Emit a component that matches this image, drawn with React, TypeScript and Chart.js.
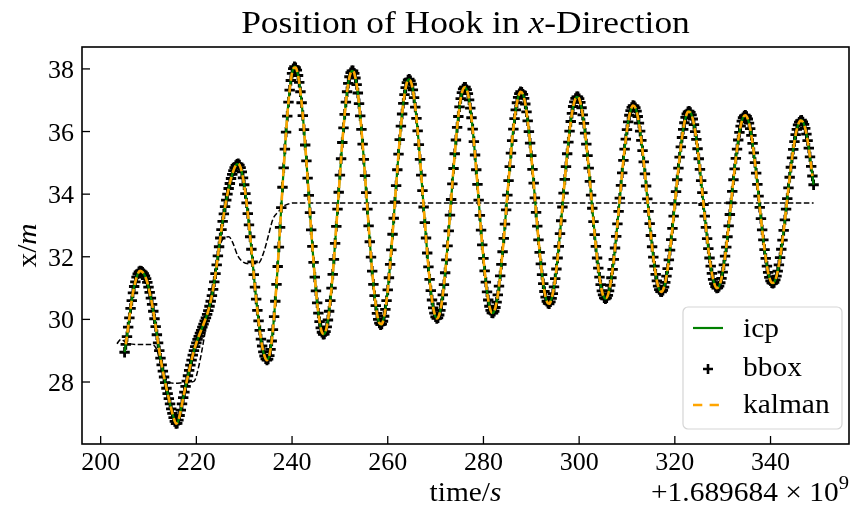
import { useEffect, useRef } from "react";
import { Chart, registerables } from "chart.js";

Chart.register(...registerables);

// ---- data -------------------------------------------------------------
// time axis offset: +1.689684e9 s
const bboxStart = 205.0;
const bboxStep = 0.25;
// bounding-box detector, x position [m], one sample every 0.25 s
const bboxX = [
  28.95, 29.2, 29.45, 29.75, 30.05, 30.35, 30.6, 30.85,
  31.05, 31.2, 31.35, 31.45, 31.52, 31.55, 31.54, 31.51,
  31.46, 31.39, 31.3, 31.18, 31.03, 30.86, 30.68, 30.48,
  30.26, 30.02, 29.77, 29.51, 29.25, 29.0, 28.76, 28.55,
  28.35, 28.16, 27.98, 27.8, 27.63, 27.47, 27.3, 27.14,
  27.0, 26.86, 26.74, 26.67, 26.68, 26.78, 26.93, 27.1,
  27.3, 27.5, 27.68, 27.86, 28.03, 28.2, 28.37, 28.54,
  28.7, 28.86, 29.0, 29.13, 29.25, 29.36, 29.46, 29.56,
  29.65, 29.75, 29.85, 29.95, 30.05, 30.16, 30.28, 30.42,
  30.58, 30.76, 30.96, 31.2, 31.46, 31.74, 32.03, 32.32,
  32.6, 32.87, 33.13, 33.37, 33.6, 33.81, 34.0, 34.18,
  34.34, 34.5, 34.63, 34.75, 34.85, 34.92, 34.96, 34.97,
  34.93, 34.85, 34.71, 34.52, 34.3, 34.02, 33.72, 33.38,
  33.02, 32.64, 32.24, 31.84, 31.43, 31.03, 30.65, 30.29,
  29.95, 29.65, 29.37, 29.15, 28.96, 28.83, 28.74, 28.7,
  28.73, 28.84, 29.04, 29.31, 29.67, 30.09, 30.58, 31.12,
  31.69, 32.31, 32.94, 33.57, 34.22, 34.84, 35.44, 35.98,
  36.49, 36.94, 37.32, 37.63, 37.86, 38.01, 38.07, 38.04,
  37.96, 37.79, 37.57, 37.27, 36.92, 36.51, 36.06, 35.57,
  35.06, 34.51, 33.96, 33.41, 32.86, 32.33, 31.82, 31.35,
  30.91, 30.53, 30.2, 29.93, 29.73, 29.59, 29.52, 29.53,
  29.61, 29.76, 29.98, 30.26, 30.6, 31.0, 31.44, 31.92,
  32.43, 32.97, 33.52, 34.06, 34.61, 35.13, 35.65, 36.12,
  36.55, 36.94, 37.27, 37.54, 37.75, 37.88, 37.94, 37.94,
  37.86, 37.71, 37.5, 37.23, 36.89, 36.5, 36.07, 35.6,
  35.11, 34.59, 34.05, 33.52, 32.99, 32.48, 31.99, 31.54,
  31.12, 30.76, 30.44, 30.19, 30.0, 29.88, 29.83, 29.85,
  29.94, 30.1, 30.32, 30.6, 30.94, 31.33, 31.76, 32.22,
  32.72, 33.23, 33.75, 34.27, 34.78, 35.28, 35.74, 36.17,
  36.56, 36.9, 37.18, 37.4, 37.56, 37.65, 37.67, 37.62,
  37.51, 37.33, 37.08, 36.78, 36.42, 36.02, 35.58, 35.11,
  34.61, 34.11, 33.59, 33.09, 32.6, 32.12, 31.68, 31.28,
  30.92, 30.62, 30.37, 30.2, 30.08, 30.03, 30.05, 30.14,
  30.29, 30.5, 30.78, 31.11, 31.49, 31.9, 32.35, 32.83,
  33.33, 33.83, 34.33, 34.82, 35.29, 35.73, 36.13, 36.48,
  36.79, 37.05, 37.24, 37.36, 37.42, 37.42, 37.34, 37.21,
  37.01, 36.75, 36.44, 36.08, 35.68, 35.25, 34.78, 34.31,
  33.81, 33.32, 32.85, 32.38, 31.95, 31.55, 31.19, 30.88,
  30.62, 30.42, 30.29, 30.21, 30.2, 30.26, 30.38, 30.55,
  30.78, 31.06, 31.39, 31.76, 32.16, 32.59, 33.04, 33.5,
  33.97, 34.43, 34.88, 35.31, 35.71, 36.08, 36.41, 36.69,
  36.92, 37.09, 37.21, 37.27, 37.26, 37.19, 37.06, 36.88,
  36.63, 36.34, 36.0, 35.63, 35.23, 34.79, 34.35, 33.88,
  33.42, 32.98, 32.54, 32.14, 31.77, 31.43, 31.14, 30.89,
  30.71, 30.58, 30.51, 30.5, 30.56, 30.67, 30.82, 31.04,
  31.3, 31.61, 31.96, 32.33, 32.74, 33.15, 33.59, 34.03,
  34.47, 34.88, 35.29, 35.66, 36.01, 36.32, 36.58, 36.8,
  36.95, 37.06, 37.11, 37.11, 37.05, 36.93, 36.76, 36.53,
  36.26, 35.95, 35.6, 35.23, 34.83, 34.41, 33.97, 33.55,
  33.12, 32.71, 32.33, 31.96, 31.64, 31.35, 31.11, 30.91,
  30.78, 30.69, 30.66, 30.69, 30.77, 30.91, 31.09, 31.33,
  31.6, 31.92, 32.28, 32.65, 33.05, 33.45, 33.87, 34.28,
  34.68, 35.08, 35.44, 35.76, 36.06, 36.31, 36.52, 36.67,
  36.77, 36.83, 36.82, 36.76, 36.65, 36.48, 36.27, 36.01,
  35.72, 35.39, 35.03, 34.65, 34.26, 33.85, 33.45, 33.06,
  32.68, 32.32, 31.99, 31.7, 31.44, 31.23, 31.06, 30.95,
  30.89, 30.88, 30.93, 31.03, 31.18, 31.38, 31.62, 31.9,
  32.21, 32.55, 32.91, 33.3, 33.68, 34.08, 34.46, 34.83,
  35.18, 35.51, 35.81, 36.07, 36.28, 36.45, 36.56, 36.63,
  36.65, 36.61, 36.53, 36.4, 36.22, 36.0, 35.75, 35.45,
  35.13, 34.79, 34.43, 34.05, 33.67, 33.3, 32.94, 32.58,
  32.26, 31.96, 31.7, 31.47, 31.28, 31.14, 31.05, 31.0,
  31.01, 31.06, 31.17, 31.31, 31.51, 31.74, 32.02, 32.31,
  32.64, 32.99, 33.35, 33.72, 34.09, 34.46, 34.81, 35.14,
  35.44, 35.73, 35.97, 36.17, 36.33, 36.44, 36.5, 36.52,
  36.48, 36.4, 36.27, 36.09, 35.88, 35.62, 35.32, 35.01,
  34.67, 34.31, 33.94, 33.58, 33.22, 32.86, 32.54, 32.23,
  31.95, 31.7, 31.5, 31.34, 31.23, 31.17, 31.15, 31.18,
  31.26, 31.38, 31.54, 31.74, 31.97, 32.24, 32.53, 32.84,
  33.18, 33.52, 33.86, 34.2, 34.54, 34.86, 35.16, 35.43,
  35.68, 35.9, 36.07, 36.21, 36.3, 36.35, 36.36, 36.31,
  36.23, 36.1, 35.92, 35.71, 35.47, 35.19, 34.89, 34.58,
  34.3,
];

const icpStart = 205.0;
const icpStep = 0.5;
// ICP registration, x position [m], one sample every 0.5 s
const icpX = [
  28.95, 29.45, 30.05, 30.6, 31.05, 31.35, 31.52, 31.54,
  31.46, 31.3, 31.03, 30.68, 30.26, 29.77, 29.25, 28.76,
  28.35, 27.98, 27.63, 27.3, 27.0, 26.74, 26.68, 26.93,
  27.3, 27.68, 28.03, 28.37, 28.7, 29.0, 29.25, 29.46,
  29.65, 29.85, 30.05, 30.28, 30.58, 30.96, 31.46, 32.03,
  32.6, 33.13, 33.6, 34.0, 34.34, 34.63, 34.85, 34.96,
  34.93, 34.71, 34.3, 33.72, 33.02, 32.24, 31.43, 30.65,
  29.95, 29.37, 28.96, 28.74, 28.73, 29.04, 29.67, 30.58,
  31.69, 32.94, 34.22, 35.44, 36.49, 37.32, 37.86, 38.07,
  37.96, 37.57, 36.92, 36.06, 35.06, 33.96, 32.86, 31.82,
  30.91, 30.2, 29.73, 29.52, 29.61, 29.98, 30.6, 31.44,
  32.43, 33.52, 34.61, 35.65, 36.55, 37.27, 37.75, 37.94,
  37.86, 37.5, 36.89, 36.07, 35.11, 34.05, 32.99, 31.99,
  31.12, 30.44, 30.0, 29.83, 29.94, 30.32, 30.94, 31.76,
  32.72, 33.75, 34.78, 35.74, 36.56, 37.18, 37.56, 37.67,
  37.51, 37.08, 36.42, 35.58, 34.61, 33.59, 32.6, 31.68,
  30.92, 30.37, 30.08, 30.05, 30.29, 30.78, 31.49, 32.35,
  33.33, 34.33, 35.29, 36.13, 36.79, 37.24, 37.42, 37.34,
  37.01, 36.44, 35.68, 34.78, 33.81, 32.85, 31.95, 31.19,
  30.62, 30.29, 30.2, 30.38, 30.78, 31.39, 32.16, 33.04,
  33.97, 34.88, 35.71, 36.41, 36.92, 37.21, 37.26, 37.06,
  36.63, 36.0, 35.23, 34.35, 33.42, 32.54, 31.77, 31.14,
  30.71, 30.51, 30.56, 30.82, 31.3, 31.96, 32.74, 33.59,
  34.47, 35.29, 36.01, 36.58, 36.95, 37.11, 37.05, 36.76,
  36.26, 35.6, 34.83, 33.97, 33.12, 32.33, 31.64, 31.11,
  30.78, 30.66, 30.77, 31.09, 31.6, 32.28, 33.05, 33.87,
  34.68, 35.44, 36.06, 36.52, 36.77, 36.82, 36.65, 36.27,
  35.72, 35.03, 34.26, 33.45, 32.68, 31.99, 31.44, 31.06,
  30.89, 30.93, 31.18, 31.62, 32.21, 32.91, 33.68, 34.46,
  35.18, 35.81, 36.28, 36.56, 36.65, 36.53, 36.22, 35.75,
  35.13, 34.43, 33.67, 32.94, 32.26, 31.7, 31.28, 31.05,
  31.01, 31.17, 31.51, 32.02, 32.64, 33.35, 34.09, 34.81,
  35.44, 35.97, 36.33, 36.5, 36.48, 36.27, 35.88, 35.32,
  34.67, 33.94, 33.22, 32.54, 31.95, 31.5, 31.23, 31.15,
  31.26, 31.54, 31.97, 32.53, 33.18, 33.86, 34.54, 35.16,
  35.68, 36.07, 36.3, 36.36, 36.23, 35.92, 35.47, 34.89,
  34.3,
];

const kalmanStart = 205.25;
const kalmanStep = 0.5;
// Kalman filter estimate, x position [m], one sample every 0.5 s
const kalmanX = [
  29.2, 29.75, 30.35, 30.85, 31.2, 31.45, 31.55, 31.51,
  31.39, 31.18, 30.86, 30.48, 30.02, 29.51, 29.0, 28.55,
  28.16, 27.8, 27.47, 27.14, 26.86, 26.67, 26.78, 27.1,
  27.5, 27.86, 28.2, 28.54, 28.86, 29.13, 29.36, 29.56,
  29.75, 29.95, 30.16, 30.42, 30.76, 31.2, 31.74, 32.32,
  32.87, 33.37, 33.81, 34.18, 34.5, 34.75, 34.92, 34.97,
  34.85, 34.52, 34.02, 33.38, 32.64, 31.84, 31.03, 30.29,
  29.65, 29.15, 28.83, 28.7, 28.84, 29.31, 30.09, 31.12,
  32.31, 33.57, 34.84, 35.98, 36.94, 37.63, 38.01, 38.04,
  37.79, 37.27, 36.51, 35.57, 34.51, 33.41, 32.33, 31.35,
  30.53, 29.93, 29.59, 29.53, 29.76, 30.26, 31.0, 31.92,
  32.97, 34.06, 35.13, 36.12, 36.94, 37.54, 37.88, 37.94,
  37.71, 37.23, 36.5, 35.6, 34.59, 33.52, 32.48, 31.54,
  30.76, 30.19, 29.88, 29.85, 30.1, 30.6, 31.33, 32.22,
  33.23, 34.27, 35.28, 36.17, 36.9, 37.4, 37.65, 37.62,
  37.33, 36.78, 36.02, 35.11, 34.11, 33.09, 32.12, 31.28,
  30.62, 30.2, 30.03, 30.14, 30.5, 31.11, 31.9, 32.83,
  33.83, 34.82, 35.73, 36.48, 37.05, 37.36, 37.42, 37.21,
  36.75, 36.08, 35.25, 34.31, 33.32, 32.38, 31.55, 30.88,
  30.42, 30.21, 30.26, 30.55, 31.06, 31.76, 32.59, 33.5,
  34.43, 35.31, 36.08, 36.69, 37.09, 37.27, 37.19, 36.88,
  36.34, 35.63, 34.79, 33.88, 32.98, 32.14, 31.43, 30.89,
  30.58, 30.5, 30.67, 31.04, 31.61, 32.33, 33.15, 34.03,
  34.88, 35.66, 36.32, 36.8, 37.06, 37.11, 36.93, 36.53,
  35.95, 35.23, 34.41, 33.55, 32.71, 31.96, 31.35, 30.91,
  30.69, 30.69, 30.91, 31.33, 31.92, 32.65, 33.45, 34.28,
  35.08, 35.76, 36.31, 36.67, 36.83, 36.76, 36.48, 36.01,
  35.39, 34.65, 33.85, 33.06, 32.32, 31.7, 31.23, 30.95,
  30.88, 31.03, 31.38, 31.9, 32.55, 33.3, 34.08, 34.83,
  35.51, 36.07, 36.45, 36.63, 36.61, 36.4, 36.0, 35.45,
  34.79, 34.05, 33.3, 32.58, 31.96, 31.47, 31.14, 31.0,
  31.06, 31.31, 31.74, 32.31, 32.99, 33.72, 34.46, 35.14,
  35.73, 36.17, 36.44, 36.52, 36.4, 36.09, 35.62, 35.01,
  34.31, 33.58, 32.86, 32.23, 31.7, 31.34, 31.17, 31.18,
  31.38, 31.74, 32.24, 32.84, 33.52, 34.2, 34.86, 35.43,
  35.9, 36.21, 36.35, 36.31, 36.1, 35.71, 35.19, 34.58,
];

// running mean of the hook position (black dashed)
const trendT = [
  203.4, 204.2, 205.0, 206.0, 208.0, 210.5, 211.5, 212.3, 213.0, 214.0,
  215.5, 217.5, 219.5, 220.5, 221.5, 222.5, 223.7, 225.1, 226.0, 226.8,
  227.6, 228.6, 229.6, 231.0, 233.0, 234.2, 235.1, 236.0, 237.2, 238.3,
  239.3, 240.2, 349.0,
];
const trendX = [
  29.22, 29.36, 29.3, 29.22, 29.2, 29.2, 29.1, 28.75, 28.35, 28.02,
  27.96, 27.98, 28.02, 28.5, 29.3, 30.25, 31.36, 32.43, 32.62, 32.64,
  32.45, 32.05, 31.85, 31.78, 31.8, 32.2, 32.7, 33.2, 33.45, 33.62,
  33.69, 33.72, 33.72,
];

const xTicks = [200, 220, 240, 260, 280, 300, 320, 340];
const yTicks = [28, 30, 32, 34, 36, 38];
const xRange = [196.1, 356.4];
const yRange = [26.02, 38.7];

const legendItems = ["icp", "bbox", "kalman"];

// ---- drawing helpers ---------------------------------------------------
const SERIF = '"Liberation Serif", "Times New Roman", serif';
const STRETCH = 1.09;

type Part = { t: string; it?: boolean; k?: number; dy?: number };

function fontOf(size: number, p: Part) {
  return `${p.it ? "italic " : ""}${size * (p.k ?? 1)}px ${SERIF}`;
}

function drawRich(
  ctx: CanvasRenderingContext2D,
  parts: Part[],
  x: number,
  y: number,
  align: "left" | "center" | "right",
  size: number,
  sx = STRETCH
) {
  const widths = parts.map((p) => {
    ctx.font = fontOf(size, p);
    return ctx.measureText(p.t).width * sx;
  });
  const total = widths.reduce((a, b) => a + b, 0);
  let cx = align === "left" ? x : align === "center" ? x - total / 2 : x - total;
  ctx.textAlign = "left";
  ctx.textBaseline = "alphabetic";
  parts.forEach((p, i) => {
    ctx.save();
    ctx.font = fontOf(size, p);
    ctx.translate(cx, y + (p.dy ?? 0));
    ctx.scale(sx, 1);
    ctx.fillText(p.t, 0, 0);
    ctx.restore();
    cx += widths[i];
  });
}

function roundRectPath(ctx: CanvasRenderingContext2D, x: number, y: number, w: number, h: number, r: number) {
  ctx.beginPath();
  ctx.moveTo(x + r, y);
  ctx.lineTo(x + w - r, y);
  ctx.arcTo(x + w, y, x + w, y + r, r);
  ctx.lineTo(x + w, y + h - r);
  ctx.arcTo(x + w, y + h, x + w - r, y + h, r);
  ctx.lineTo(x + r, y + h);
  ctx.arcTo(x, y + h, x, y + h - r, r);
  ctx.lineTo(x, y + r);
  ctx.arcTo(x, y, x + r, y, r);
  ctx.closePath();
}

const decorPlugin = {
  id: "decor",
  beforeDraw(chart: any) {
    const { ctx, width, height } = chart;
    ctx.save();
    ctx.fillStyle = "#ffffff";
    ctx.fillRect(0, 0, width, height);
    ctx.restore();
  },
  afterDraw(chart: any) {
    const { ctx, chartArea: a, scales } = chart;
    const xs = scales.x;
    const ys = scales.y;
    ctx.save();
    ctx.fillStyle = "#000";
    ctx.strokeStyle = "#000";

    // frame
    ctx.lineWidth = 1.6;
    ctx.strokeRect(a.left, a.top, a.right - a.left, a.bottom - a.top);

    // inward ticks + labels
    ctx.lineWidth = 1.3;
    ctx.font = `26px ${SERIF}`;
    xs.ticks.forEach((t: any) => {
      if (t.value < xs.min || t.value > xs.max) return;
      const px = xs.getPixelForValue(t.value);
      ctx.beginPath();
      ctx.moveTo(px, a.bottom);
      ctx.lineTo(px, a.bottom - 8);
      ctx.stroke();
      ctx.textAlign = "center";
      ctx.textBaseline = "alphabetic";
      ctx.fillText(String(t.value), px, 470);
    });
    ys.ticks.forEach((t: any) => {
      if (t.value < ys.min || t.value > ys.max) return;
      const py = ys.getPixelForValue(t.value);
      ctx.beginPath();
      ctx.moveTo(a.left, py);
      ctx.lineTo(a.left + 8, py);
      ctx.stroke();
      ctx.textAlign = "right";
      ctx.textBaseline = "alphabetic";
      ctx.fillText(String(t.value), a.left - 8, py + 9);
    });

    const cx = (a.left + a.right) / 2;
    const cy = (a.top + a.bottom) / 2;

    // title
    drawRich(ctx, [{ t: "Position of Hook in " }, { t: "x", it: true }, { t: "-Direction" }], cx, 33, "center", 32.5);

    // x label and offset
    drawRich(ctx, [{ t: "time/" }, { t: "s", it: true }], cx, 501, "center", 27);
    drawRich(ctx, [{ t: "+1.689684 \u00d7 10" }, { t: "9", k: 0.7, dy: -12 }], a.right, 501, "right", 27);

    // y label
    ctx.save();
    ctx.translate(35.5, cy);
    ctx.rotate(-Math.PI / 2);
    drawRich(ctx, [{ t: "x/" }, { t: "m", it: true }], 0, 0, "center", 27);
    ctx.restore();

    // legend
    const lx = 683, ly = 307, lw = 159, lh = 122;
    ctx.save();
    roundRectPath(ctx, lx, ly, lw, lh, 5);
    ctx.fillStyle = "rgba(255,255,255,0.85)";
    ctx.fill();
    ctx.strokeStyle = "#d5d5d5";
    ctx.lineWidth = 1.2;
    ctx.stroke();
    ctx.restore();

    const rows = [328, 369, 405];
    const textBase = [337, 376, 413];
    // icp
    ctx.save();
    ctx.strokeStyle = "#008000";
    ctx.lineWidth = 2.2;
    ctx.beginPath();
    ctx.moveTo(693, rows[0]);
    ctx.lineTo(723, rows[0]);
    ctx.stroke();
    // bbox
    ctx.strokeStyle = "#000";
    ctx.lineWidth = 2.6;
    ctx.beginPath();
    ctx.moveTo(703, rows[1]);
    ctx.lineTo(713, rows[1]);
    ctx.moveTo(708, rows[1] - 5);
    ctx.lineTo(708, rows[1] + 5);
    ctx.stroke();
    // kalman
    ctx.strokeStyle = "#ffa500";
    ctx.lineWidth = 2.6;
    ctx.setLineDash([9.3, 7.3]);
    ctx.beginPath();
    ctx.moveTo(693, rows[2]);
    ctx.lineTo(723, rows[2]);
    ctx.stroke();
    ctx.restore();

    ctx.fillStyle = "#000";
    legendItems.forEach((name, i) => {
      drawRich(ctx, [{ t: name }], 743, textBase[i], "left", 27);
    });

    ctx.restore();
  },
};

export default function App() {
  const ref = useRef<HTMLCanvasElement | null>(null);

  useEffect(() => {
    const canvas = ref.current;
    if (!canvas) return;

    const chart = new Chart(canvas, {
      type: "line",
      data: {
        datasets: [
          {
            label: "kalman",
            data: kalmanX.map((v, i) => ({ x: kalmanStart + i * kalmanStep, y: v })),
            borderColor: "#ffa500",
            borderWidth: 2.6,
            borderDash: [8, 4],
            pointRadius: 0,
            cubicInterpolationMode: "monotone",
            fill: false,
            order: 0,
          },
          {
            label: "icp",
            data: icpX.map((v, i) => ({ x: icpStart + i * icpStep, y: v })),
            borderColor: "#008000",
            borderWidth: 2.2,
            pointRadius: 0,
            cubicInterpolationMode: "monotone",
            fill: false,
            order: 1,
          },
          {
            label: "mean",
            data: trendT.map((t, i) => ({ x: t, y: trendX[i] })),
            borderColor: "#000",
            borderWidth: 1.5,
            borderDash: [5.5, 2.5],
            pointRadius: 0,
            cubicInterpolationMode: "monotone",
            fill: false,
            order: 2,
          },
          {
            label: "bbox",
            data: bboxX.map((v, i) => ({ x: bboxStart + i * bboxStep, y: v })),
            showLine: false,
            pointStyle: "cross",
            pointRadius: 5.2,
            pointBorderWidth: 2.8,
            pointBorderColor: "#000",
            pointBackgroundColor: "#000",
            borderColor: "#000",
            fill: false,
            order: 3,
          },
        ],
      },
      options: {
        animation: false,
        responsive: false,
        events: [],
        layout: { padding: { left: 82, right: 2, top: 47, bottom: 70 } },
        plugins: {
          legend: { display: false },
          tooltip: { enabled: false },
          title: { display: false },
        },
        scales: {
          x: {
            type: "linear",
            min: xRange[0],
            max: xRange[1],
            ticks: { display: false },
            grid: { display: false, drawTicks: false },
            border: { display: false },
            afterFit: (s: any) => {
              s.height = 0;
            },
            afterBuildTicks: (s: any) => {
              s.ticks = xTicks.map((value) => ({ value }));
            },
          },
          y: {
            type: "linear",
            min: yRange[0],
            max: yRange[1],
            ticks: { display: false },
            grid: { display: false, drawTicks: false },
            border: { display: false },
            afterFit: (s: any) => {
              s.width = 0;
            },
            afterBuildTicks: (s: any) => {
              s.ticks = yTicks.map((value) => ({ value }));
            },
          },
        },
      },
      plugins: [decorPlugin],
    } as any);

    return () => chart.destroy();
  }, []);

  return (
    <div style={{ position: "fixed", left: 0, top: 0, width: 857, height: 514, background: "#fff" }}>
      <canvas ref={ref} width={857} height={514} style={{ display: "block" }} />
    </div>
  );
}
